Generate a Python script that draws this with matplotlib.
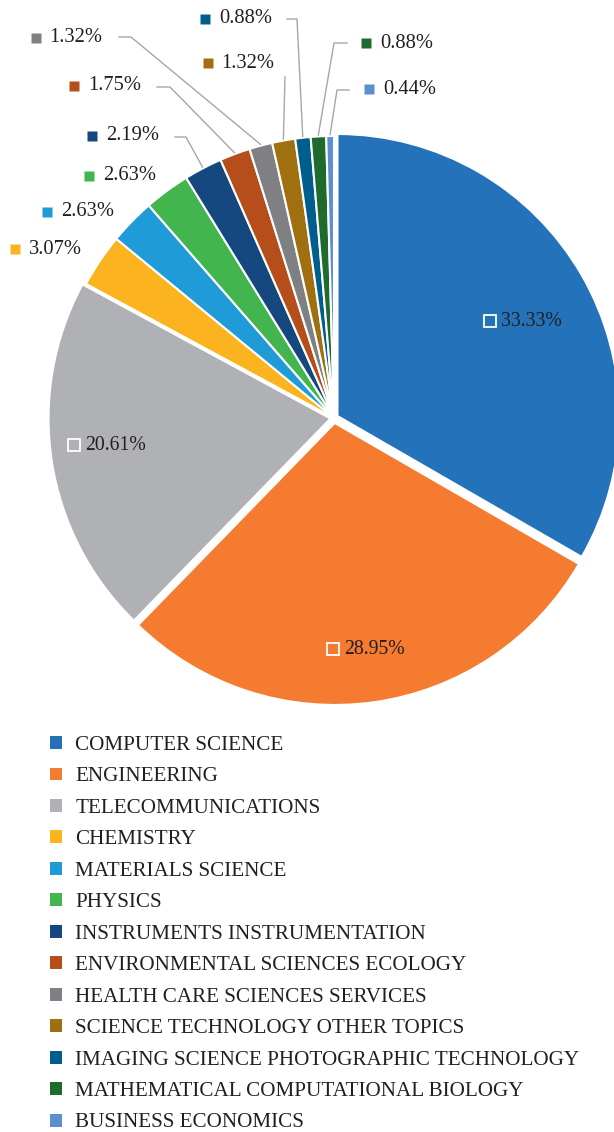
import numpy as np
import matplotlib
matplotlib.use("Agg")
import matplotlib.pyplot as plt
from matplotlib.patches import Patch

plt.rcParams['font.family'] = ['Liberation Serif', 'DejaVu Serif']

# données (pourcentages)
categories = ["COMPUTER SCIENCE", "ENGINEERING", "TELECOMMUNICATIONS", "CHEMISTRY",
              "MATERIALS SCIENCE", "PHYSICS", "INSTRUMENTS INSTRUMENTATION",
              "ENVIRONMENTAL SCIENCES ECOLOGY", "HEALTH CARE SCIENCES SERVICES",
              "SCIENCE TECHNOLOGY OTHER TOPICS", "IMAGING SCIENCE PHOTOGRAPHIC TECHNOLOGY",
              "MATHEMATICAL COMPUTATIONAL BIOLOGY", "BUSINESS ECONOMICS"]
values = [33.33, 28.95, 20.61, 3.07, 2.63, 2.63, 2.19, 1.75, 1.32, 1.32, 0.88, 0.88, 0.44]
colors = ['#2473ba', '#f47b30', '#b0b1b4', '#fbb41f', '#1f9bd7', '#43b54f', '#14487e',
          '#b54e1a', '#7f8083', '#a07010', '#005e8e', '#1e6b2d', '#5a90cc']

W, H = 614, 1132
txt_col = '#231f20'
line_col = '#a6a6a6'

fig = plt.figure(figsize=(W / 100, H / 100), dpi=100)
ax = fig.add_axes([0, 0, 1, 1])
ax.set_xlim(0, W)
ax.set_ylim(0, H)
ax.set_aspect('equal')
ax.axis('off')

cx, cy, R = 334, H - 418, 282
explode = [4, 5, 3.5] + [0] * 10   # en pixels (le rayon est en pixels)
wedges, _ = ax.pie(values, colors=colors, startangle=90, counterclock=False,
                   center=(cx, cy), radius=R, explode=explode,
                   wedgeprops=dict(edgecolor='white', linewidth=1.5))
ax.set_xlim(0, W)
ax.set_ylim(0, H)

def mid_angle(w):
    return np.deg2rad((w.theta1 + w.theta2) / 2)

# étiquettes à l'intérieur (3 grandes parts)
ins_r = [0.78, 0.835, 0.78]
ins_shift = [-4, 2, -1.4]
for i in range(3):
    a = mid_angle(wedges[i]) + np.deg2rad(ins_shift[i])
    x = cx + ins_r[i] * R * np.cos(a)
    y = cy + ins_r[i] * R * np.sin(a)
    ax.text(x, y, f"{values[i]:.2f}%", ha='center', va='center', fontsize=14.2, color=txt_col)
    ax.plot(x - 41.5, y + 1, marker='s', ms=8.8, mfc=colors[i], mec='white', mew=1.3)

# étiquettes extérieures (position du carré en pixels, y depuis le haut)
out_sq = {3: (15, 249), 4: (47, 212), 5: (89, 176), 6: (92, 136), 7: (74, 86),
          8: (35.5, 38), 9: (207.5, 63), 10: (205, 18.5), 11: (366, 43), 12: (369, 89)}
leaders = {6: [(175, 137), (186, 137)], 7: [(157, 87), (170, 87)],
           8: [(119, 37), (131, 37)], 9: [(285, 77)],
           10: [(287, 19), (297, 19)], 11: [(347, 43), (334, 43)],
           12: [(349, 90), (337, 90)]}
for i, (sx, sy) in out_sq.items():
    ax.plot(sx, H - sy, marker='s', ms=7.8, color=colors[i], mec='none')
    ax.text(sx + 14, H - sy, f"{values[i]:.2f}%", ha='left', va='center',
            fontsize=14.8, color=txt_col)
    if i in leaders:
        a = mid_angle(wedges[i])
        ex = cx + 1.005 * R * np.cos(a)
        ey = cy + 1.005 * R * np.sin(a)
        pts = leaders[i]
        xs = [p[0] for p in pts] + [ex]
        ys = [H - p[1] for p in pts] + [ey]
        ax.plot(xs, ys, color=line_col, lw=1)

handles = [Patch(facecolor=c, edgecolor='none') for c in colors]
fig.legend(handles=handles, labels=categories, loc='upper left',
           bbox_to_anchor=(50 / W, 1 - 736 / H), frameon=False, fontsize=15.2,
           handlelength=0.57, handleheight=0.57, handletextpad=0.62,
           labelspacing=0.59, borderpad=0, borderaxespad=0, labelcolor=txt_col)

fig.savefig("out.png", dpi=100)
